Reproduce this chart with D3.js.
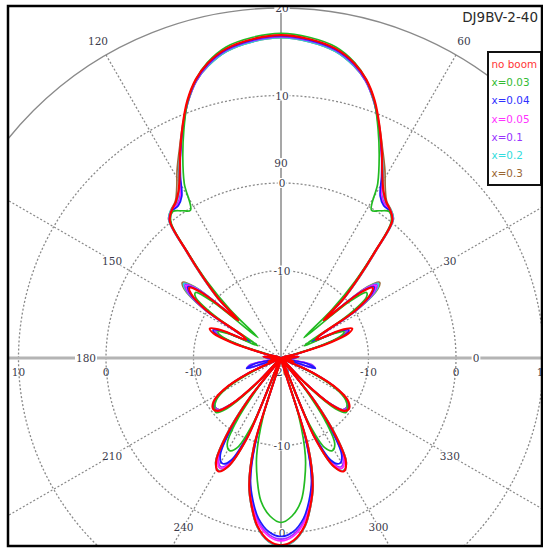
<!DOCTYPE html>
<html>
<head>
<meta charset="utf-8">
<script src="https://cdn.jsdelivr.net/npm/d3@7"></script>
<style>
body { margin: 0; background: #fff; }
</style>
</head>
<body>
<div id="chart"></div>
<script>
const width = 543, height = 548;
const cx = 281, cy = 358;

// left half of the pattern, 90 (up) .. 270 (down); right half is the mirror image
const angles = [90, 95, 100, 104, 107, 110, 113, 116, 119, 121.5, 124, 126.5, 129, 131.5, 134, 136.5,
  138.5, 140.5, 142.5, 144.5, 147.5, 150, 152.5, 155, 157.5, 160, 162.5, 165, 170, 175, 180, 186, 192, 197,
  201, 205, 209, 213, 217, 220, 223, 226, 229, 232, 235, 238, 241, 244, 247, 250, 253, 256, 259, 262, 266, 270];

const noBoom = [16.9, 16.6, 15.9, 14.7, 13.3, 11.3, 8.8, 6.3, 3.9, 2.4, 1.5, 1.0, 0.2, -3.8, -7.2, -10.2,
  -13.5, -8.3, -6.8, -7.4, -10, -15, -15.5, -12.5, -11.2, -11.8, -14.0, -18, -20, -18, -19, -20, -19, -18.5,
  -20, -16, -12.5, -10.8, -10.3, -10.6, -12.2, -16, -20, -14, -9, -6, -5.2, -6.2, -10, -20, -9.5, -5.0, -2.6, -0.6, 0.9, 1.4];
const x003 = [17.1, 16.8, 16.1, 14.8, 13.3, 11.2, 8.4, 5.6, 2.8, -0.2, 0.3, 0.8, 0.0, -4.0, -7.8, -12,
  -16.5, -10, -7.7, -8.0, -11, -16, -17, -13.5, -12.2, -12.8, -15, -19, -20, -18.5, -19, -20, -19, -18.5,
  -20, -17, -13, -11.2, -10.5, -10.3, -11.5, -15, -20, -16, -11, -8.4, -7.9, -8.6, -12, -20, -13, -8.5, -5.8, -3.5, -1.9, -1.2];
const x004 = [16.8, 16.5, 15.8, 14.6, 13.2, 11.2, 8.7, 6.2, 3.7, 1.7, 1.0, 0.9, 0.1, -3.9, -7.4, -10.4,
  -13.5, -8.0, -6.6, -7.2, -10, -15, -16, -13, -11.6, -12.2, -14.5, -18, -20, -18, -18.5, -20, -17, -15.9,
  -20, -16, -12.7, -10.9, -10.4, -10.6, -12.2, -16, -20, -14.5, -10, -6.9, -6.2, -7.0, -11, -20, -10.5, -5.6, -3.3, -1.5, -0.1, 0.4];
const x005 = [16.8, 16.5, 15.8, 14.6, 13.2, 11.2, 8.7, 6.2, 3.8, 1.9, 1.1, 1.0, 0.2, -3.8, -7.3, -10.3,
  -13.3, -7.8, -6.4, -7.0, -9.8, -15, -16, -13, -11.7, -12.3, -14.5, -18, -20, -18, -18.5, -20, -17, -16.2,
  -20, -16, -12.6, -10.9, -10.5, -10.7, -12.3, -16, -20, -14, -9.5, -6.4, -5.6, -6.5, -10.5, -20, -10, -5.3, -2.9, -1.0, 0.4, 0.9];
const x01 = [16.7, 16.4, 15.7, 14.5, 13.1, 11.1, 8.6, 6.2, 3.9, 2.0, 1.2, 1.0, 0.3, -3.7, -7.2, -10.2,
  -13.0, -7.6, -6.2, -6.8, -9.6, -15, -16, -13, -11.8, -12.4, -14.5, -18, -20, -18, -18.5, -20, -16.5, -15.9,
  -20, -16, -12.6, -11.0, -10.6, -10.8, -12.4, -16, -20, -14, -9.7, -6.6, -5.8, -6.7, -10.6, -20, -10.2, -5.4, -3.0, -1.2, 0.2, 0.7];
const x02 = [16.6, 16.3, 15.6, 14.4, 13.1, 11.1, 8.7, 6.3, 4.1, 2.3, 1.4, 1.1, 0.4, -3.6, -7.0, -10.0,
  -12.8, -7.4, -6.0, -6.6, -9.5, -15, -16, -13, -11.9, -12.5, -14.5, -18, -20, -18.5, -19, -20, -18, -17.5,
  -20, -16, -12.6, -11.0, -10.6, -10.8, -12.4, -16, -20, -13.5, -8.8, -5.9, -5.3, -6.2, -10, -20, -9.3, -4.9, -2.5, -0.5, 1.0, 1.5];
const x03 = [16.6, 16.3, 15.6, 14.4, 13.1, 11.1, 8.8, 6.5, 4.5, 2.8, 1.6, 1.1, 0.4, -3.5, -6.9, -9.9,
  -12.6, -7.2, -5.8, -6.4, -9.4, -15, -16, -13, -12.0, -12.6, -14.5, -18, -20, -18.5, -19, -20, -18, -17.5,
  -20, -16, -12.6, -11.0, -10.6, -10.8, -12.4, -16, -20, -13.5, -8.8, -5.9, -5.3, -6.2, -10, -20, -9.3, -4.9, -2.5, -0.5, 1.0, 1.5];

const seriesNames = ["no boom", "x=0.03", "x=0.04", "x=0.05", "x=0.1", "x=0.2", "x=0.3"];
const seriesValues = [noBoom, x003, x004, x005, x01, x02, x03];
const seriesColors = ["#ff0000", "#22bb22", "#1a1aff", "#ff22ff", "#9a30ff", "#22dddd", "#9a6a3a"];
const legendColors = ["#ff3535", "#33bb33", "#3030ff", "#ff33ff", "#9933ff", "#33dddd", "#996633"];
const drawOrder = [6, 5, 4, 3, 2, 1, 0];

const ringValues = [-10, 0, 10];
const spokeAngles = [30, 60, 120, 150, 210, 240, 300, 330];
const angleLabels = [0, 30, 60, 90, 120, 150, 180, 210, 240, 300, 330];
const title = "DJ9BV-2-40";

const r = d3.scaleLinear().domain([-20, 20]).range([0, 350]).clamp(true);
const rad = a => a * Math.PI / 180;
const px = (a, rr) => cx + rr * Math.cos(rad(a));
const py = (a, rr) => cy - rr * Math.sin(rad(a));

const svg = d3.select("#chart").append("svg")
  .attr("width", width).attr("height", height);

svg.append("defs").append("clipPath").attr("id", "frame")
  .append("rect").attr("x", 8).attr("y", 6).attr("width", 534).attr("height", 540);

const g = svg.append("g").attr("clip-path", "url(#frame)");

// grid
g.append("circle").attr("cx", cx).attr("cy", cy).attr("r", r(20))
  .attr("fill", "none").attr("stroke", "#8a8a8a").attr("stroke-width", 1.3);

g.selectAll(".ring").data(ringValues).join("circle")
  .attr("cx", cx).attr("cy", cy).attr("r", d => r(d))
  .attr("fill", "none").attr("stroke", "#8a8a8a").attr("stroke-width", 1.3)
  .attr("stroke-dasharray", "2,2");

g.selectAll(".spoke").data(spokeAngles).join("line")
  .attr("x1", cx).attr("y1", cy)
  .attr("x2", d => px(d, r(20))).attr("y2", d => py(d, r(20)))
  .attr("stroke", "#8a8a8a").attr("stroke-width", 1.3).attr("stroke-dasharray", "2,2");

g.append("line").attr("x1", 8).attr("x2", 542).attr("y1", cy).attr("y2", cy)
  .attr("stroke", "#b4b4b4").attr("stroke-width", 3);
g.append("line").attr("x1", cx).attr("x2", cx).attr("y1", cy - r(20)).attr("y2", 546)
  .attr("stroke", "#8a8a8a").attr("stroke-width", 1.5);

const labelFont = "DejaVu Serif, serif";
function boxedLabel(x, y, txt) {
  const t = g.append("text").attr("x", x).attr("y", y)
    .attr("text-anchor", "middle").attr("dominant-baseline", "central")
    .attr("font-family", labelFont).attr("font-size", 10.5).attr("fill", "#3a3a4a")
    .text(txt);
  const bb = t.node().getBBox();
  g.insert("rect", () => t.node())
    .attr("x", bb.x - 1).attr("y", bb.y + 1).attr("width", bb.width + 2).attr("height", bb.height - 2)
    .attr("fill", "#fff");
}

// dB labels along the vertical axis
[20, 10, 0, -10].forEach(v => boxedLabel(cx + 1, cy - r(v), v));
[-10, 0].forEach(v => boxedLabel(cx + 1, cy + r(v), v));
boxedLabel(cx, cy + 14, -20);

// dB labels under the horizontal axis
[10, 0, -10].forEach(v => {
  g.append("text").attr("x", cx - r(v)).attr("y", cy + 14)
    .attr("text-anchor", "middle").attr("dominant-baseline", "central")
    .attr("font-family", labelFont).attr("font-size", 10.5).attr("fill", "#3a3a4a").text(v);
  g.append("text").attr("x", cx + r(v)).attr("y", cy + 14)
    .attr("text-anchor", "middle").attr("dominant-baseline", "central")
    .attr("font-family", labelFont).attr("font-size", 10.5).attr("fill", "#3a3a4a").text(v);
});

// angle labels
angleLabels.forEach(a => {
  const rr = (a === 60 || a === 120) ? 366 : 195;
  boxedLabel(px(a, rr), py(a, rr), a);
});

// patterns
function fullPattern(vals) {
  const pts = angles.map((a, i) => [a, vals[i]]);
  for (let i = angles.length - 2; i > 0; i--) pts.push([540 - angles[i], vals[i]]);
  return pts;
}

const line = d3.lineRadial()
  .angle(d => rad(90 - d[0]))
  .radius(d => r(d[1]))
  .curve(d3.curveCatmullRomClosed.alpha(0.5));

const plot = g.append("g").attr("transform", `translate(${cx},${cy})`);
plot.selectAll("path").data(drawOrder).join("path")
  .attr("d", i => line(fullPattern(seriesValues[i])))
  .attr("fill", "none")
  .attr("stroke", i => seriesColors[i])
  .attr("stroke-width", i => i === 0 ? 2.2 : 1.7)
  .attr("stroke-linejoin", "round");

// title
svg.append("text").attr("x", 538).attr("y", 22).attr("text-anchor", "end")
  .attr("font-family", "DejaVu Sans, sans-serif").attr("font-size", 13.5).attr("fill", "#2a2a2a")
  .text(title);

// legend
const legend = svg.append("g");
legend.append("rect").attr("x", 488).attr("y", 52).attr("width", 53).attr("height", 133)
  .attr("fill", "#fff").attr("stroke", "#111").attr("stroke-width", 2);
legend.selectAll("text").data(seriesNames).join("text")
  .attr("x", 491.5).attr("y", (d, i) => 64 + i * 18.2)
  .attr("dominant-baseline", "central")
  .attr("font-family", "DejaVu Sans, sans-serif").attr("font-size", 10.4)
  .attr("fill", (d, i) => legendColors[i])
  .text(d => d);

// frame
svg.append("rect").attr("x", 8).attr("y", 6).attr("width", 534).attr("height", 540)
  .attr("fill", "none").attr("stroke", "#000").attr("stroke-width", 2.5);
</script>
</body>
</html>
